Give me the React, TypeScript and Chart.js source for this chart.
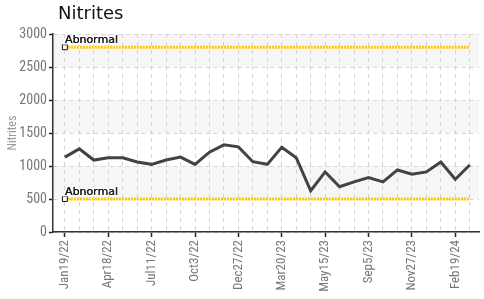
import React, { useEffect, useRef } from 'react';
import { Chart, registerables } from 'chart.js';

Chart.register(...registerables);

// ---- data ----
const nitriteValues = [
  1135, 1260, 1090, 1125, 1125, 1060, 1025, 1090, 1135, 1025,
  1210, 1320, 1290, 1065, 1025, 1285, 1125, 625, 910, 685,
  760, 825, 760, 940, 875, 910, 1060, 800, 1015,
];
const tickLabels = [
  'Jan19/22', 'Apr18/22', 'Jul11/22', 'Oct3/22', 'Dec27/22',
  'Mar20/23', 'May15/23', 'Sep5/23', 'Nov27/23', 'Feb19/24',
];
const labelEvery = 3;
const abnormalHigh = 2800;
const abnormalLow = 500;
const abnormalLabel = 'Abnormal';
const titleText = 'Nitrites';
const yAxisTitle = 'Nitrites';
const yTicks = { min: 0, max: 3000, step: 500 };

const TICK_FONT = "'Liberation Sans Narrow', 'Roboto Condensed', 'DejaVu Sans Condensed', Roboto, sans-serif";

export default function App() {
  const ref = useRef<HTMLCanvasElement | null>(null);

  useEffect(() => {
    const canvas = ref.current;
    if (!canvas) return;
    const last = nitriteValues.length - 1;

    const bandPlugin = {
      id: 'bands',
      beforeDraw(chart: any) {
        const { ctx, chartArea, scales } = chart;
        const y = scales.y;
        ctx.save();
        ctx.fillStyle = '#f6f6f6';
        for (let v = yTicks.min + yTicks.step; v < yTicks.max; v += yTicks.step * 2) {
          const top = y.getPixelForValue(v + yTicks.step);
          const bot = y.getPixelForValue(v);
          ctx.fillRect(chartArea.left, top, chartArea.right - chartArea.left, bot - top);
        }
        ctx.restore();
      },
    };

    const textPlugin = {
      id: 'texts',
      afterDatasetsDraw(chart: any) {
        const { ctx, scales } = chart;
        ctx.save();
        ctx.font = "18px 'DejaVu Sans', sans-serif";
        ctx.fillStyle = '#111';
        ctx.textBaseline = 'alphabetic';
        ctx.textAlign = 'left';
        ctx.fillText(titleText, 58, 19);

        ctx.font = "11px 'DejaVu Sans', sans-serif";
        [abnormalHigh, abnormalLow].forEach((v) => {
          const px = scales.x.getPixelForValue(0);
          const py = scales.y.getPixelForValue(v);
          ctx.lineWidth = 3;
          ctx.strokeStyle = 'rgba(255,255,255,0.9)';
          ctx.strokeText(abnormalLabel, px, py - 4);
          ctx.fillStyle = '#1a1a1a';
          ctx.fillText(abnormalLabel, px, py - 4);
          ctx.fillText(abnormalLabel, px + 0.3, py - 4);
        });
        ctx.restore();
      },
    };

    const thresholdData = (v: number) => [
      { x: 0, y: v },
      { x: last, y: v },
    ];

    const thresholdDataset = (v: number) => ({
      label: abnormalLabel,
      data: thresholdData(v),
      borderColor: '#ffc800',
      borderWidth: 3,
      borderDash: [2, 1],
      pointStyle: 'rect',
      pointRadius: [3.5, 0],
      pointBackgroundColor: '#fff',
      pointBorderColor: '#111',
      pointBorderWidth: 1,
      fill: false,
    });

    const chart = new Chart(canvas, {
      type: 'line',
      data: {
        datasets: [
          {
            label: 'Nitrites',
            data: nitriteValues.map((v, i) => ({ x: i, y: v })),
            borderColor: '#434343',
            borderWidth: 3,
            pointRadius: 0,
            tension: 0,
            fill: false,
          },
          thresholdDataset(abnormalHigh),
          thresholdDataset(abnormalLow),
        ],
      },
      options: {
        animation: false,
        responsive: false,
        layout: { padding: { top: 34, left: 0, right: 0, bottom: 0 } },
        plugins: {
          legend: { display: false },
          tooltip: { enabled: false },
          title: { display: false },
        },
        scales: {
          x: {
            type: 'linear',
            min: -0.82,
            max: 28.64,
            afterBuildTicks(scale: any) {
              const t = [];
              for (let i = 0; i <= last; i++) t.push({ value: i });
              scale.ticks = t;
            },
            afterFit(scale: any) {
              scale.height = 67;
              scale.paddingLeft = 0;
              scale.paddingRight = 0;
            },
            ticks: {
              autoSkip: false,
              maxRotation: 90,
              minRotation: 90,
              padding: 3,
              color: '#777',
              font: { family: TICK_FONT, size: 13 },
              callback: (v: any) => {
                const n = Number(v);
                return n % labelEvery === 0 ? tickLabels[n / labelEvery] ?? '' : '';
              },
            },
            grid: {
              color: '#d4d4d4',
              lineWidth: 1,
              drawTicks: true,
              tickLength: 5,
              tickColor: (ctx: any) => (ctx.tick && ctx.tick.value % labelEvery === 0 ? '#222' : 'rgba(0,0,0,0)'),
              tickWidth: 1.5,
            },
            border: { display: true, color: '#333', width: 1.5, dash: [4, 4] },
          },
          y: {
            min: yTicks.min,
            max: yTicks.max,
            afterFit(scale: any) {
              scale.width = 53;
            },
            ticks: {
              stepSize: yTicks.step,
              padding: 2,
              color: '#777',
              font: { family: TICK_FONT, size: 14 },
              callback: (v: any) => String(v),
            },
            title: {
              display: true,
              text: yAxisTitle,
              color: '#9a9a9a',
              font: { family: TICK_FONT, size: 12 },
              padding: { top: 6, bottom: 0 },
            },
            grid: {
              color: '#d4d4d4',
              lineWidth: 1,
              drawTicks: true,
              tickLength: 4,
              tickColor: '#222',
              tickWidth: 1.5,
            },
            border: { display: true, color: '#333', width: 1.5, dash: [4, 4] },
          },
        },
      },
      plugins: [bandPlugin, textPlugin],
    } as any);

    return () => chart.destroy();
  }, []);

  return (
    <div style={{ position: 'fixed', left: 0, top: 0, width: 484, height: 299, background: '#fff' }}>
      <canvas ref={ref} width={484} height={299} style={{ display: 'block' }} />
    </div>
  );
}
